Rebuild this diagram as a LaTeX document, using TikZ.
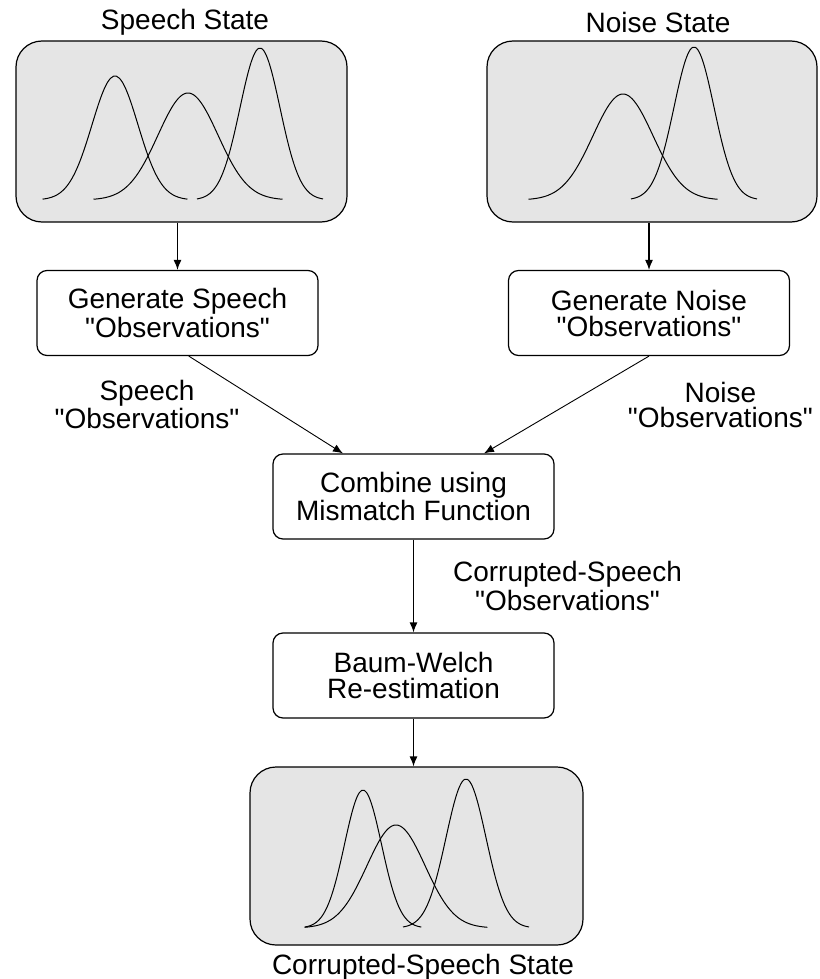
\documentclass[tikz,border=0pt]{standalone}
\usepackage{fontspec}
\setmainfont{Liberation Sans}
\usetikzlibrary{arrows.meta,calc}
\newcommand{\qt}[1]{\textquotedbl#1\textquotedbl}
\begin{document}
\begin{tikzpicture}[x=0.5pt, y=-0.5pt, font=\fontsize{14}{12.5}\selectfont,
    >={Latex[length=5pt,width=4pt]}]
       \tikzstyle{statebox}=[draw, fill=black!10, rounded corners=13pt, line width=0.6pt, inner sep=0pt]
       \tikzstyle{procbox}=[draw, rounded corners=5pt, line width=0.6pt, inner sep=0pt, align=center, minimum width=140.5pt, minimum height=42.5pt, font=\fontsize{14}{13}\selectfont]
       \tikzstyle{bell}=[line width=0.5pt, smooth, samples=50, domain=-3.15:3.15]
       \tikzstyle{flow}=[->, line width=0.6pt]
       \useasboundingbox (0,0) rectangle (819,979);

       \node[statebox, minimum width=165.5pt, minimum height=90.5pt] (spst) at (181.5,131.5) {};
       \node[statebox, minimum width=165pt, minimum height=90.5pt] (nost) at (652,131.5) {};
       \node[procbox] (gensp) at (177.5,313) {Generate Speech\\ \qt{Observations}};
       \node[procbox] (genno) at (649,313) {Generate Noise\\ \qt{Observations}};
       \node[procbox] (comb) at (413.5,496.5) {Combine using\\Mismatch Function};
       \node[procbox] (baum) at (413.5,675.5) {Baum-Welch\\Re-estimation};
       \node[statebox, minimum width=166.5pt, minimum height=89pt] (corr) at (416.5,856) {};

       \node (sptitle) at (185,22) {Speech State};
       \node (notitle) at (658,22) {Noise State};
       \node (cotitle) at (423,967) {Corrupted-Speech State};

       % speech state
       \draw[bell] plot ({115+23*\x}, {200-124*exp(-0.5*(\x)*(\x))});
       \draw[bell] plot ({188+30*\x}, {200-107*exp(-0.5*(\x)*(\x))});
       \draw[bell] plot ({260+20*\x}, {200-152*exp(-0.5*(\x)*(\x))});
       % noise state
       \draw[bell] plot ({623+30*\x}, {200-106*exp(-0.5*(\x)*(\x))});
       \draw[bell] plot ({694+20*\x}, {200-153*exp(-0.5*(\x)*(\x))});
       % corrupted-speech state
       \draw[bell] plot ({363+18.5*\x}, {928-138*exp(-0.5*(\x)*(\x))});
       \draw[bell] plot ({396+29*\x}, {928-103*exp(-0.5*(\x)*(\x))});
       \draw[bell] plot ({466+20*\x}, {928-149*exp(-0.5*(\x)*(\x))});

       \draw[flow] (spst.south -| gensp.north) -- (gensp.north);
       \draw[flow] (nost.south -| genno.north) -- (genno.north);
       \draw[->, line width=0.45pt] ($(gensp.south west)!0.54!(gensp.south east)$) -- ($(comb.north west)!0.25!(comb.north east)$)
          node[midway, left=13pt, inner sep=0pt, align=center] {Speech\\\qt{Observations}};
       \draw[->, line width=0.45pt] (genno.south) -- ($(comb.north west)!0.75!(comb.north east)$)
          node[midway, right=30.5pt, inner sep=0pt, align=center] {Noise\\\qt{Observations}};
       \draw[flow] (comb.south) -- (baum.north)
          node[midway, right=19.5pt, inner sep=0pt, align=center] {Corrupted-Speech\\\qt{Observations}};
       \draw[flow] (baum.south) -- (baum.south |- corr.north);
\end{tikzpicture}
\end{document}
